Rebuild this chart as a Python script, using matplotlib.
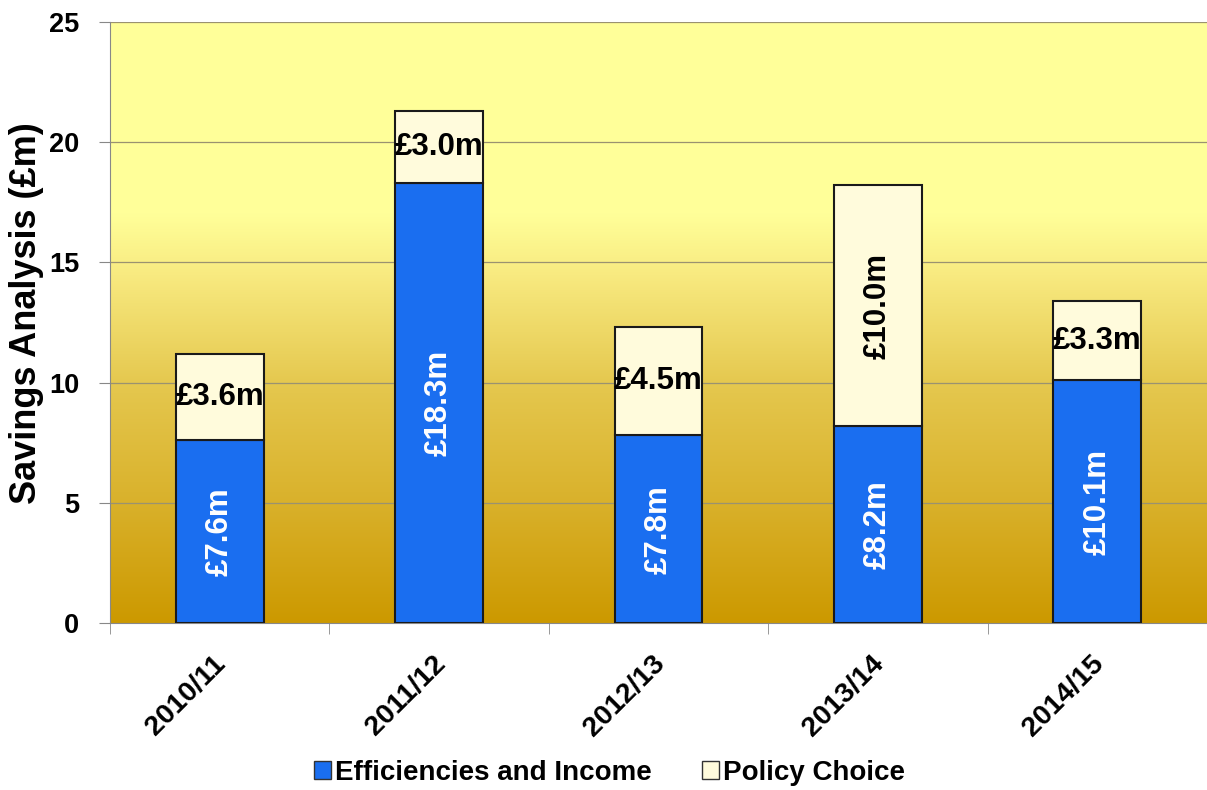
import numpy as np
import matplotlib
matplotlib.use("Agg")
import matplotlib.pyplot as plt
import matplotlib.transforms as mtransforms
from matplotlib.colors import LinearSegmentedColormap
from matplotlib.patches import Patch

plt.rcParams['font.family'] = ['Liberation Sans', 'DejaVu Sans']
plt.rcParams['font.weight'] = 'bold'

years = ["2010/11", "2011/12", "2012/13", "2013/14", "2014/15"]
efficiencies = [7.6, 18.3, 7.8, 8.2, 10.1]
policy = [3.6, 3.0, 4.5, 10.0, 3.3]
eff_labels = ["£7.6m", "£18.3m", "£7.8m", "£8.2m", "£10.1m"]
pol_labels = ["£3.6m", "£3.0m", "£4.5m", "£10.0m", "£3.3m"]
pol_rotated = [False, False, False, True, False]
series_names = ["Efficiencies and Income", "Policy Choice"]
yticks = [0, 5, 10, 15, 20, 25]

blue = "#1a6ef0"
cream = "#fffbdc"

fig = plt.figure(figsize=(12.07, 7.90), dpi=100)
ax = fig.add_axes([110/1207, 1-623/790, 1-110/1207, (623-22)/790])

x = np.arange(len(years))
n = len(years)
ax.set_xlim(-0.5, n - 0.5)
ax.set_ylim(0, 25)

# gradient background
cmap = LinearSegmentedColormap.from_list(
    "bg", [(0.0, "#cc9900"), (0.2, "#d9b12b"), (0.4, "#e5c84f"),
           (0.58, "#f8ea80"), (0.68, "#ffff99"), (1.0, "#ffff9a")])
grad = np.linspace(0, 1, 256).reshape(-1, 1)
ax.imshow(grad, aspect='auto', cmap=cmap, origin='lower',
          extent=[-0.5, n - 0.5, 0, 25], zorder=0)

for yv in yticks[1:]:
    ax.axhline(yv, color="#9a9270", lw=0.9, zorder=1)

w = 0.4
ax.bar(x, efficiencies, w, color=blue, edgecolor="#1a1a1a", lw=1.5, zorder=3,
       label=series_names[0])
ax.bar(x, policy, w, bottom=efficiencies, color=cream, edgecolor="#1a1a1a", lw=1.5,
       zorder=3, label=series_names[1])

for i in range(n):
    ax.text(x[i], efficiencies[i] / 2, eff_labels[i], rotation=90, ha='center', va='center',
            color='white', fontsize=22.5, fontweight='bold', zorder=4)
    yc = efficiencies[i] + policy[i] / 2
    ax.text(x[i], yc, pol_labels[i], rotation=90 if pol_rotated[i] else 0,
            ha='center', va='center', color='black', fontsize=22.5, fontweight='bold', zorder=4)

ax.set_yticks(yticks)
ax.set_yticklabels([str(v) for v in yticks], fontsize=19.5, fontweight='bold')
ax.set_xticks(x)
ax.set_xticklabels(years, rotation=45, ha='right', rotation_mode='anchor',
                   fontsize=20.5, fontweight='bold')
ax.tick_params(axis='x', length=0, pad=20)
shift = mtransforms.ScaledTranslation(-7/100, 0, fig.dpi_scale_trans)
for lab in ax.get_xticklabels():
    lab.set_transform(lab.get_transform() + shift)
ax.set_xticks(np.arange(-0.5, n, 1), minor=True)
ax.tick_params(axis='x', which='minor', length=8, color='#888888')
ax.tick_params(axis='y', length=8, color='#888888', pad=14)

for s in ['top', 'right']:
    ax.spines[s].set_visible(False)
ax.spines['left'].set_color('#888888')
ax.spines['bottom'].set_color('#888888')

ax.set_ylabel("Savings Analysis (£m)", fontsize=26, fontweight='bold', va='center')
ax.yaxis.set_label_coords(-0.0757, 0.516)

handles = [Patch(facecolor=blue, edgecolor='#333333'), Patch(facecolor=cream, edgecolor='#333333')]
fig.legend(handles, series_names, loc='center', bbox_to_anchor=(0.505, 1 - 773/790),
           ncol=2, frameon=False, handlelength=0.6, handleheight=0.6, borderaxespad=0,
           borderpad=0, handletextpad=0.15, columnspacing=1.8,
           prop={'weight': 'bold', 'size': 20})

fig.savefig("out.png", dpi=100)
